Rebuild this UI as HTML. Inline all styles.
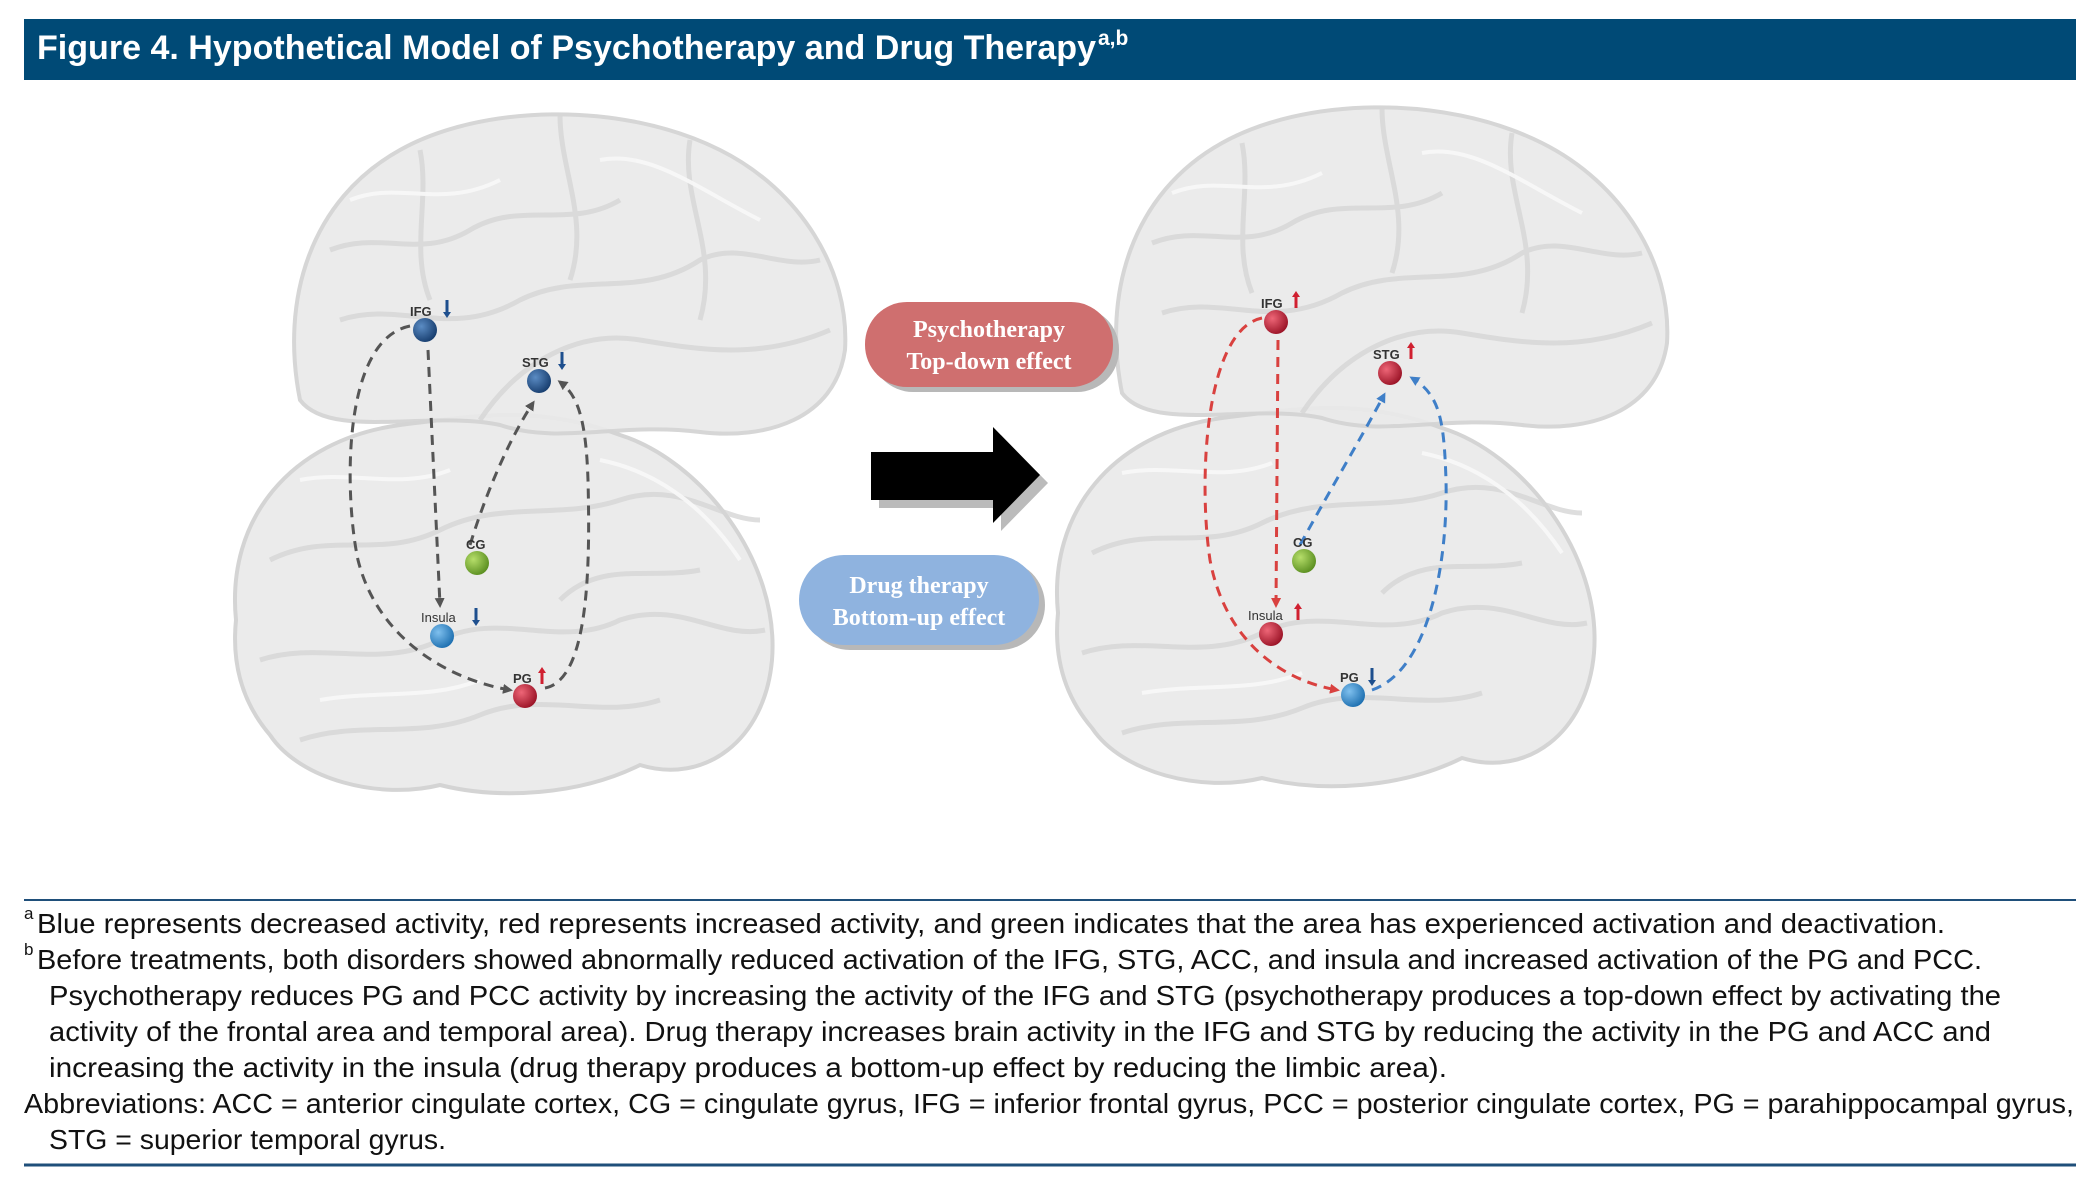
<!DOCTYPE html>
<html><head><meta charset="utf-8"><style>
html,body{margin:0;padding:0;background:#fff;}
svg{display:block;}
</style></head><body>
<svg width="2085" height="1180" viewBox="0 0 2085 1180" xmlns="http://www.w3.org/2000/svg">
<defs>
<radialGradient id="gb" cx="0.35" cy="0.35" r="0.7"><stop offset="0" stop-color="#5b8cc4"/><stop offset="1" stop-color="#173d6e"/></radialGradient>
<radialGradient id="gl" cx="0.35" cy="0.35" r="0.7"><stop offset="0" stop-color="#7fc0ee"/><stop offset="1" stop-color="#1d6fb0"/></radialGradient>
<radialGradient id="gr" cx="0.35" cy="0.35" r="0.7"><stop offset="0" stop-color="#ee6677"/><stop offset="1" stop-color="#9a1326"/></radialGradient>
<radialGradient id="gg" cx="0.35" cy="0.35" r="0.7"><stop offset="0" stop-color="#b6de6a"/><stop offset="1" stop-color="#5a8e20"/></radialGradient>
<marker id="ak" markerWidth="10" markerHeight="10" refX="7" refY="5" orient="auto" markerUnits="userSpaceOnUse"><path d="M0,0 L10,5 L0,10 Z" fill="#555"/></marker>
<marker id="ar" markerWidth="10" markerHeight="10" refX="7" refY="5" orient="auto" markerUnits="userSpaceOnUse"><path d="M0,0 L10,5 L0,10 Z" fill="#d9413f"/></marker>
<marker id="ab" markerWidth="10" markerHeight="10" refX="7" refY="5" orient="auto" markerUnits="userSpaceOnUse"><path d="M0,0 L10,5 L0,10 Z" fill="#3f7fc8"/></marker>
<g id="brain">
<path d="M236,620 C226,520 290,440 400,425 C480,415 540,405 620,435 C700,460 780,560 772,660 C765,740 705,785 640,765 C580,795 500,800 440,785 C380,800 300,780 270,735 C240,700 232,660 236,620Z" fill="#ebebeb" stroke="#d4d4d4" stroke-width="4"/>
<path d="M300,400 C280,300 310,200 400,150 C480,105 620,100 720,150 C800,190 850,270 845,350 C835,420 765,440 700,432 C620,422 560,445 500,425 C430,410 330,440 300,400Z" fill="#eaeaea" stroke="#d4d4d4" stroke-width="4" opacity="0.95"/>
<g fill="none" stroke="#d6d6d6" stroke-width="5" opacity="0.8">
<path d="M330,250 C380,230 420,260 470,230 C520,200 570,230 620,200"/>
<path d="M340,320 C400,300 450,340 520,300 C580,270 640,300 700,260 C740,240 780,270 820,260"/>
<path d="M480,420 C520,360 580,330 640,340 C700,350 760,360 830,330"/>
<path d="M270,560 C330,530 380,560 440,530 C500,500 560,520 620,500 C680,480 720,520 760,520"/>
<path d="M260,660 C320,640 380,670 440,640 C500,610 560,650 620,620 C680,600 720,640 765,630"/>
<path d="M300,740 C360,720 420,740 480,715 C540,690 600,720 660,700"/>
<path d="M420,150 C430,200 410,250 430,300"/><path d="M560,115 C560,170 590,220 570,280"/><path d="M690,140 C680,200 720,250 700,320"/>
<path d="M560,600 C600,560 650,580 700,570"/>
</g>
<g fill="none" stroke="#f8f8f8" stroke-width="4" opacity="0.9">
<path d="M350,200 C400,180 440,210 500,180"/><path d="M600,160 C650,150 700,190 760,220"/>
<path d="M300,480 C350,470 400,490 450,470"/><path d="M600,460 C650,470 700,500 740,560"/>
<path d="M320,700 C380,690 430,700 480,680"/>
</g>
</g>
</defs>
<rect width="2085" height="1180" fill="#fff"/>
<rect x="24" y="19" width="2052" height="61" fill="#004a76"/>
<text x="37" y="59" font-family="Liberation Sans, sans-serif" font-weight="bold" font-size="34" fill="#fff" textLength="1059" lengthAdjust="spacingAndGlyphs">Figure 4. Hypothetical Model of Psychotherapy and Drug Therapy</text>
<text x="1098" y="45" font-family="Liberation Sans, sans-serif" font-weight="bold" font-size="21" fill="#fff">a,b</text>

<use href="#brain"/>
<use href="#brain" transform="translate(822,-7)"/>

<g fill="none" stroke="#555" stroke-width="3" stroke-dasharray="10,7">
<path d="M428,350 L440,605" marker-end="url(#ak)"/>
<path d="M410,326 C340,340 345,500 358,560 C378,640 450,680 510,690" marker-end="url(#ak)"/>
<path d="M470,545 C490,480 515,430 533,403" marker-end="url(#ak)"/>
<path d="M545,688 C590,680 590,560 588,480 C586,420 578,395 560,382" marker-end="url(#ak)"/>
</g>
<g fill="none" stroke-width="3" stroke-dasharray="10,7">
<path d="M1278,340 L1276,605" stroke="#d9413f" marker-end="url(#ar)"/>
<path d="M1262,318 C1205,330 1198,480 1210,560 C1225,640 1280,680 1337,690" stroke="#d9413f" marker-end="url(#ar)"/>
<path d="M1300,545 C1330,490 1360,440 1384,395" stroke="#3f7fc8" marker-end="url(#ab)"/>
<path d="M1372,690 C1430,670 1448,560 1446,480 C1444,420 1440,395 1412,378" stroke="#3f7fc8" marker-end="url(#ab)"/>
</g>

<g font-family="Liberation Sans, sans-serif" font-weight="bold" font-size="13" fill="#333">
<circle cx="425" cy="330" r="12" fill="url(#gb)"/><text x="410" y="316">IFG</text><path d="M447,300 v14" stroke="#1e4f8e" stroke-width="3"/><path d="M443,312 l4,6 l4,-6z" fill="#1e4f8e"/>
<circle cx="539" cy="381" r="12" fill="url(#gb)"/><text x="522" y="367">STG</text><path d="M562,352 v14" stroke="#1e4f8e" stroke-width="3"/><path d="M558,364 l4,6 l4,-6z" fill="#1e4f8e"/>
<circle cx="477" cy="563" r="12" fill="url(#gg)"/><text x="466" y="549">CG</text>
<circle cx="442" cy="636" r="12" fill="url(#gl)"/><text x="421" y="622" font-weight="normal">Insula</text><path d="M476,608 v14" stroke="#1e4f8e" stroke-width="3"/><path d="M472,620 l4,6 l4,-6z" fill="#1e4f8e"/>
<circle cx="525" cy="696" r="12" fill="url(#gr)"/><text x="513" y="683">PG</text><path d="M542,670 v14" stroke="#d02030" stroke-width="3"/><path d="M538,673 l4,-6 l4,6z" fill="#d02030"/>
</g>
<g font-family="Liberation Sans, sans-serif" font-weight="bold" font-size="13" fill="#333">
<circle cx="1276" cy="322" r="12" fill="url(#gr)"/><text x="1261" y="308">IFG</text><path d="M1296,294 v14" stroke="#d02030" stroke-width="3"/><path d="M1292,297 l4,-6 l4,6z" fill="#d02030"/>
<circle cx="1390" cy="373" r="12" fill="url(#gr)"/><text x="1373" y="359">STG</text><path d="M1411,345 v14" stroke="#d02030" stroke-width="3"/><path d="M1407,348 l4,-6 l4,6z" fill="#d02030"/>
<circle cx="1304" cy="561" r="12" fill="url(#gg)"/><text x="1293" y="547">CG</text>
<circle cx="1271" cy="634" r="12" fill="url(#gr)"/><text x="1248" y="620" font-weight="normal">Insula</text><path d="M1298,606 v14" stroke="#d02030" stroke-width="3"/><path d="M1294,609 l4,-6 l4,6z" fill="#d02030"/>
<circle cx="1353" cy="695" r="12" fill="url(#gl)"/><text x="1340" y="682">PG</text><path d="M1372,668 v14" stroke="#1e4f8e" stroke-width="3"/><path d="M1368,680 l4,6 l4,-6z" fill="#1e4f8e"/>
</g>

<rect x="871" y="307" width="248" height="85" rx="42" fill="#b8b8b8"/>
<rect x="865" y="302" width="248" height="85" rx="42" fill="#cf6f6f"/>
<text x="989" y="337" text-anchor="middle" font-family="Liberation Serif, serif" font-weight="bold" font-size="24" fill="#fff">Psychotherapy</text>
<text x="989" y="369" text-anchor="middle" font-family="Liberation Serif, serif" font-weight="bold" font-size="24" fill="#fff">Top-down effect</text>
<rect x="805" y="560" width="240" height="90" rx="45" fill="#b8b8b8"/>
<rect x="799" y="555" width="240" height="90" rx="45" fill="#8fb3df"/>
<text x="919" y="593" text-anchor="middle" font-family="Liberation Serif, serif" font-weight="bold" font-size="24" fill="#fff">Drug therapy</text>
<text x="919" y="625" text-anchor="middle" font-family="Liberation Serif, serif" font-weight="bold" font-size="24" fill="#fff">Bottom-up effect</text>

<path d="M879,460 L1001,460 L1001,435 L1048,483 L1001,531 L1001,508 L879,508 Z" fill="#bbb"/>
<path d="M871,452 L993,452 L993,427 L1040,475 L993,523 L993,500 L871,500 Z" fill="#000"/>

<line x1="24" y1="900" x2="2076" y2="900" stroke="#1f4f7a" stroke-width="2"/>
<g font-family="Liberation Sans, sans-serif" font-size="28" fill="#111">
<text x="24" y="919" font-size="17">a</text>
<text x="37" y="933" textLength="1908" lengthAdjust="spacingAndGlyphs">Blue represents decreased activity, red represents increased activity, and green indicates that the area has experienced activation and deactivation.</text>
<text x="24" y="955" font-size="17">b</text>
<text x="37" y="969" textLength="1945" lengthAdjust="spacingAndGlyphs">Before treatments, both disorders showed abnormally reduced activation of the IFG, STG, ACC, and insula and increased activation of the PG and PCC.</text>
<text x="49" y="1005" textLength="1952" lengthAdjust="spacingAndGlyphs">Psychotherapy reduces PG and PCC activity by increasing the activity of the IFG and STG (psychotherapy produces a top-down effect by activating the</text>
<text x="49" y="1041" textLength="1942" lengthAdjust="spacingAndGlyphs">activity of the frontal area and temporal area). Drug therapy increases brain activity in the IFG and STG by reducing the activity in the PG and ACC and</text>
<text x="49" y="1077" textLength="1398" lengthAdjust="spacingAndGlyphs">increasing the activity in the insula (drug therapy produces a bottom-up effect by reducing the limbic area).</text>
<text x="24" y="1113" textLength="2050" lengthAdjust="spacingAndGlyphs">Abbreviations: ACC = anterior cingulate cortex, CG = cingulate gyrus, IFG = inferior frontal gyrus, PCC = posterior cingulate cortex, PG = parahippocampal gyrus,</text>
<text x="49" y="1149" textLength="397" lengthAdjust="spacingAndGlyphs">STG = superior temporal gyrus.</text>
</g>
<line x1="24" y1="1165" x2="2076" y2="1165" stroke="#1f4f7a" stroke-width="3"/>
</svg>
</body></html>
